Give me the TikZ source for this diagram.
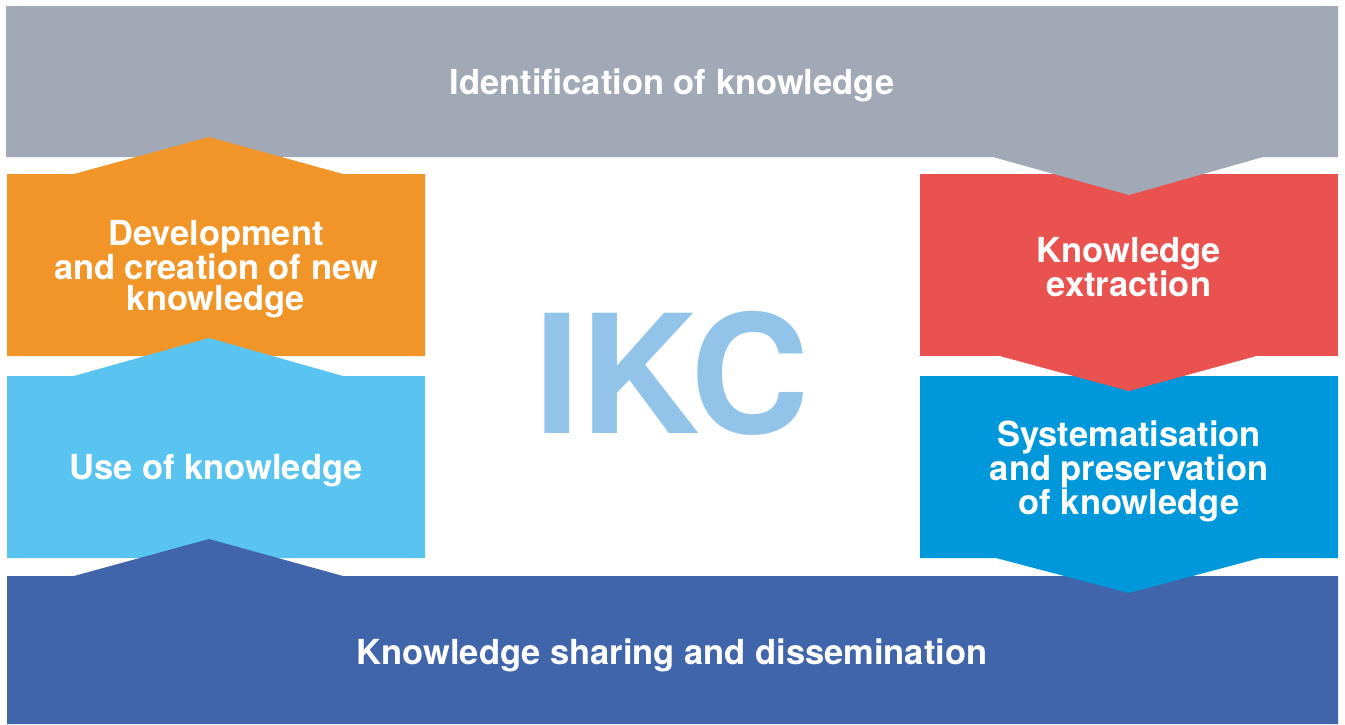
\documentclass[tikz,border=0pt]{standalone}
\usepackage{fontspec}
\setmainfont{TeX Gyre Heros}
\definecolor{cgray}{HTML}{A1A8B6}
\definecolor{corange}{HTML}{F29528}
\definecolor{cred}{HTML}{E9524F}
\definecolor{clight}{HTML}{5AC4F0}
\definecolor{csys}{HTML}{0098DA}
\definecolor{cdark}{HTML}{4165AA}
\definecolor{cikc}{HTML}{92C4EA}
\tikzset{
  lbl/.style={text=white, font=\fontsize{34.5}{30.5}\selectfont\bfseries, align=center, inner sep=0pt},
  big/.style={text=cikc, font=\fontsize{165}{165}\selectfont\bfseries, inner sep=0pt}
}
\begin{document}
\begin{tikzpicture}[x=1pt,y=-1pt]
\useasboundingbox (0,0) rectangle (1345,724);
% red rectangle (body)
\fill[cred] (920,174) rectangle (1338,356);
% gray band with downward tip
\fill[cgray] (6,6) -- (1338,6) -- (1338,157) -- (1263,157) -- (1129,195) -- (993,157) -- (6,157) -- cycle;
% orange with upward tip
\fill[corange] (7,174) -- (74,174) -- (209,137) -- (343,174) -- (425,174) -- (425,356) -- (7,356) -- cycle;
% light blue with upward tip
\fill[clight] (7,376) -- (74,376) -- (209,338) -- (343,376) -- (425,376) -- (425,558) -- (7,558) -- cycle;
% dark blue band with upward tip
\fill[cdark] (7,576) -- (74,576) -- (209,539) -- (343,576) -- (1338,576) -- (1338,724) -- (7,724) -- cycle;
% systematisation blue with downward tip
\fill[csys] (920,376) -- (1338,376) -- (1338,558) -- (1260,558) -- (1129,593) -- (996,558) -- (920,558) -- cycle;
% red downward tip
\fill[cred] (996,355) -- (1260,355) -- (1129,391) -- cycle;

\node[lbl] (ident) at (672,85) {Identification of knowledge};
\node[lbl] (dev) at (216,269) {Development\\and creation of new\\knowledge};
\node[lbl] (use) at (216,471) {Use of knowledge};
\node[lbl] (extr) at (1129,267) {Knowledge\\extraction};
\node[lbl] (sys) at (1129,471) {Systematisation\\and preservation\\of knowledge};
\node[lbl] (share) at (672,655) {Knowledge sharing and dissemination};
\node[big] (ikc) at (672,373) {IKC};
\end{tikzpicture}
\end{document}
